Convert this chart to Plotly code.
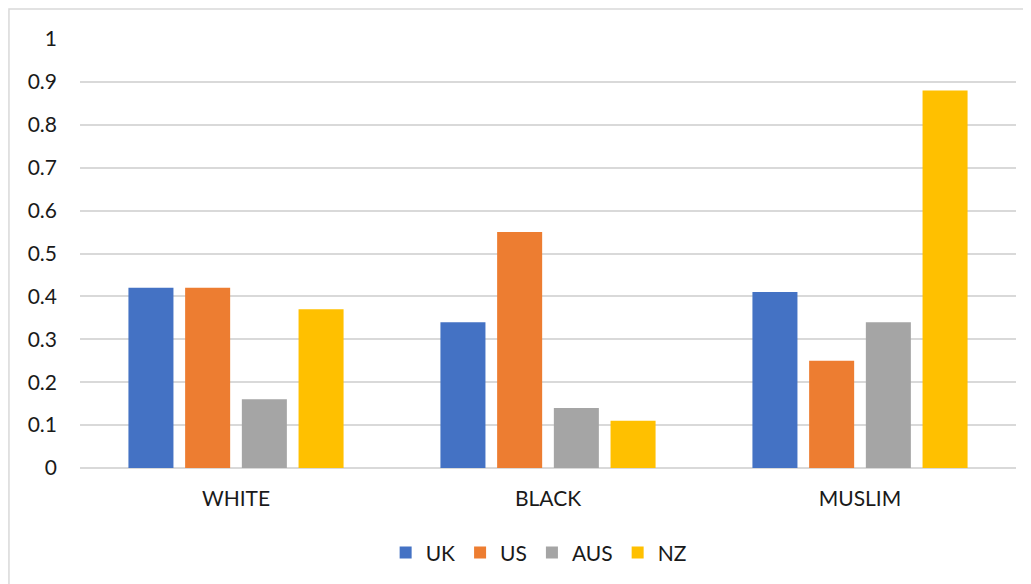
import plotly.graph_objects as go

categories = ["WHITE", "BLACK", "MUSLIM"]
uk = [0.42, 0.34, 0.41]
us = [0.42, 0.55, 0.25]
aus = [0.16, 0.14, 0.34]
nz = [0.37, 0.11, 0.88]
y_ticks = [0, 0.1, 0.2, 0.3, 0.4, 0.5, 0.6, 0.7, 0.8, 0.9, 1]
y_tick_labels = ["0", "0.1", "0.2", "0.3", "0.4", "0.5", "0.6", "0.7", "0.8", "0.9", "1"]

series = [("UK", uk, "#4472C4"), ("US", us, "#ED7D31"), ("AUS", aus, "#A5A5A5"), ("NZ", nz, "#FFC000")]

fig = go.Figure()
for name, vals, color in series:
    fig.add_trace(go.Bar(name=name, x=categories, y=vals, marker=dict(color=color, line=dict(width=0))))

font_family = "Lato, 'Liberation Sans', sans-serif"
fig.update_layout(
    width=1023, height=576,
    margin=dict(l=72, r=15, t=31, b=115),
    paper_bgcolor="white", plot_bgcolor="white",
    barmode="group", bargap=0.273, bargroupgap=0.206,
    font=dict(family=font_family, size=21, color="#1a1a1a"),
    showlegend=True,
    legend=dict(orientation="h", x=0.49, xanchor="center", y=-0.195, yanchor="middle",
                font=dict(size=21), itemwidth=30, traceorder="normal"),
    xaxis=dict(showgrid=False, showline=False, ticks="", tickfont=dict(size=21),
               ticklabelstandoff=16),
    yaxis=dict(range=[0, 1], tickvals=y_ticks, ticktext=y_tick_labels,
               showgrid=True, gridcolor="#d9d9d9", gridwidth=1.5,
               zeroline=True, zerolinecolor="#d9d9d9", zerolinewidth=2,
               showline=False, ticks="", ticklabelstandoff=22, tickfont=dict(size=21)),
    shapes=[dict(type="rect", xref="paper", yref="paper",
                 x0=-0.0759, x1=1.2, y0=-0.4, y1=1.0698,
                 line=dict(color="#d9d9d9", width=1.5), fillcolor="rgba(0,0,0,0)", layer="below")],
)

fig.write_html("out.html")
